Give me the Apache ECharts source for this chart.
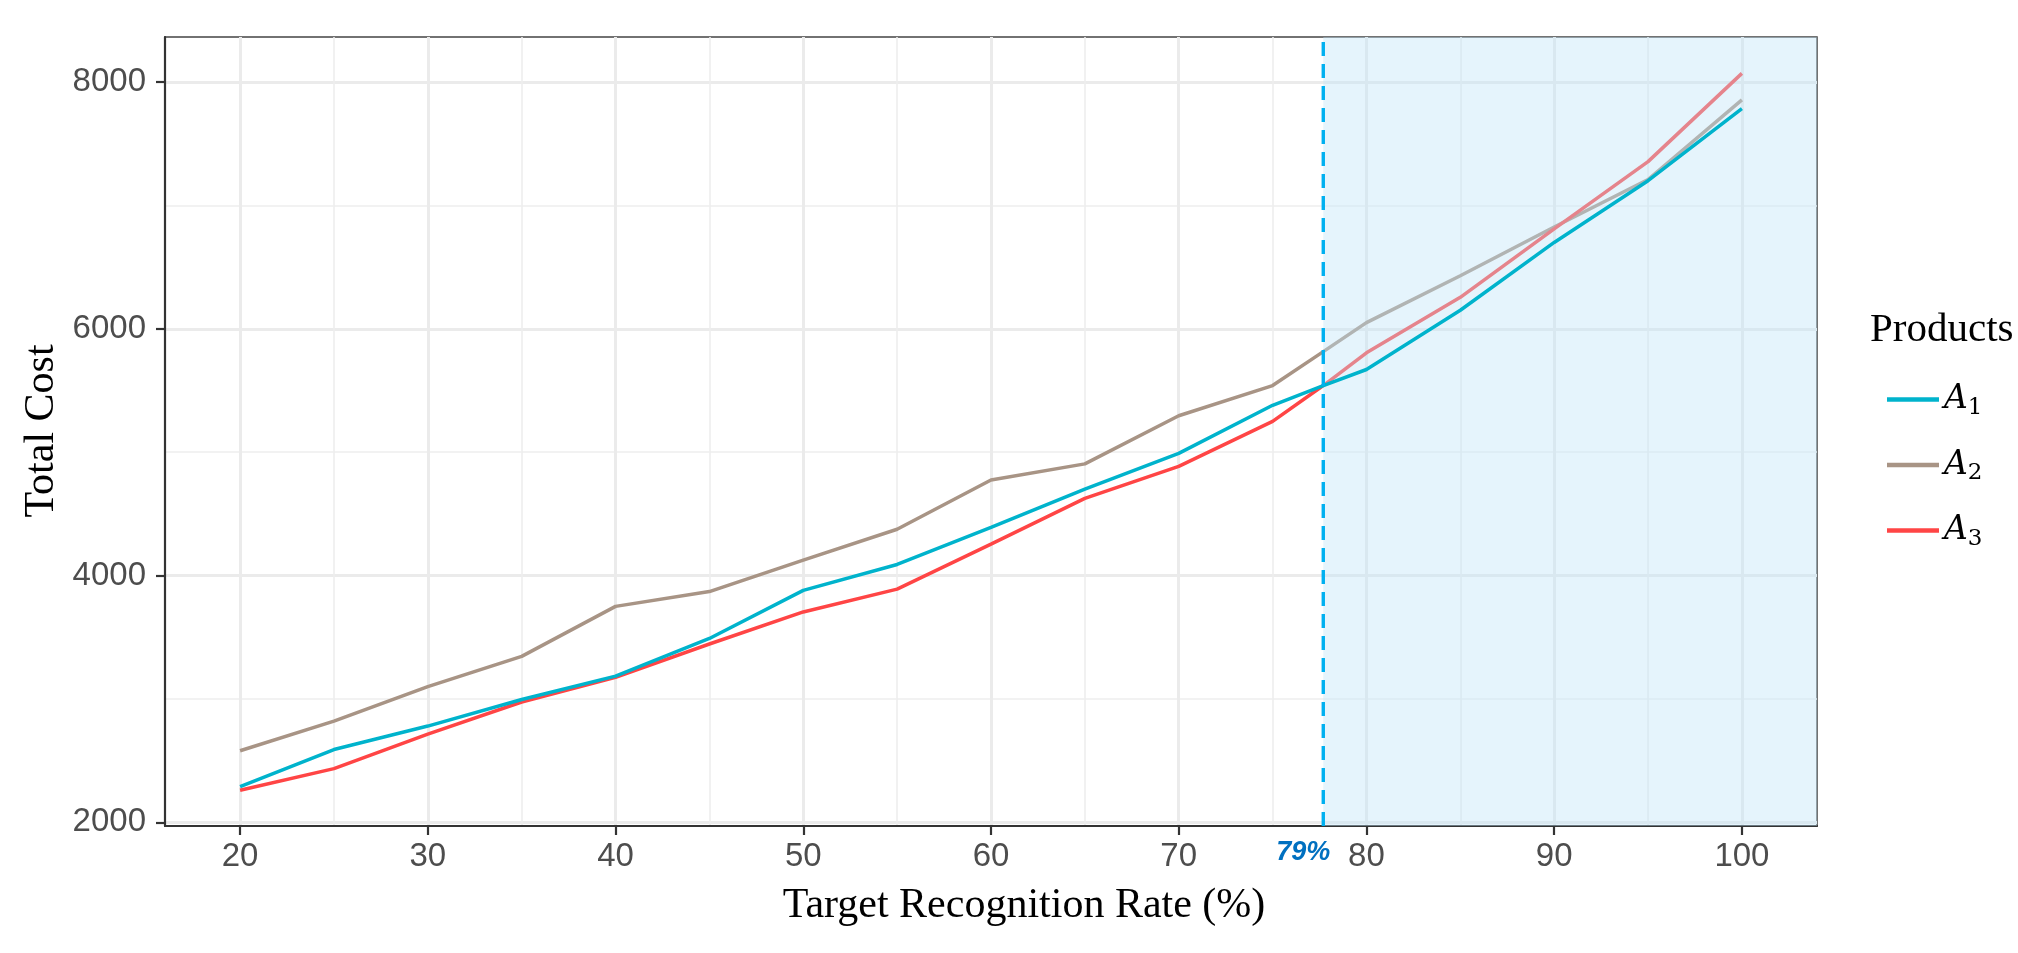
<!DOCTYPE html>
<html><head><meta charset="utf-8">
<script src="https://cdn.jsdelivr.net/npm/echarts@6/dist/echarts.min.js"></script>
<style>html,body{margin:0;padding:0;background:#fff}#c{width:2018px;height:953px}</style>
</head><body><div id="c"></div>
<script>
// ---- data ----
const recognitionRate = [20,25,30,35,40,45,50,55,60,65,70,75,77.7,80,85,90,95,100];
const costA1 = [2290,2590,2780,2995,3185,3490,3880,4090,4390,4700,4990,5380,5540,5670,6150,6700,7200,7785];
const costA2 = [2580,2820,3100,3345,3750,3870,4125,4375,4775,4905,5295,5540,5815,6050,6430,6825,7210,7855];
const costA3 = [2260,2435,2715,2975,3175,3445,3705,3890,4255,4625,4885,5250,5540,5805,6255,6810,7355,8070];
const productNames = ['A1','A2','A3'];
const xMajorTicks = [20,30,40,50,60,70,80,90,100];
const xMinorTicks = [25,35,45,55,65,75,85,95];
const yMajorTicks = [2000,4000,6000,8000];
const yMinorTicks = [3000,5000,7000];
const thresholdX = 77.7;
const thresholdLabel = '79%';
const xRange = [16,104];
const yRange = [1970,8365];
const xTitle = 'Target Recognition Rate (%)';
const yTitle = 'Total Cost';
const legendTitle = 'Products';

const colors = {A1:'#00B3CC', A2:'#A89485', A3:'#FF4545'};
const zip = (xs, ys) => xs.map((x,i)=>[x, ys[i]]);

const chart = echarts.init(document.getElementById('c'), null, {renderer:'canvas'});

const grid = {left:165, right:201, top:37, bottom:127, show:true, borderColor:'#444', borderWidth:1.5, backgroundColor:'transparent'};
const tickFont = {fontSize:33, color:'#4D4D4D', fontFamily:'Liberation Sans, Arial, sans-serif', formatter: v => String(v)};

function lineSeries(name, data, z){
  return {name, type:'line', data:zip(recognitionRate, data), xAxisIndex:0, yAxisIndex:0,
    symbol:'none', smooth:false, z, color:colors[name],
    lineStyle:{color:colors[name], width:3.5}, itemStyle:{color:colors[name]}, silent:true};
}

const option = {
  animation:false,
  grid,
  xAxis:[
    {type:'value', min:xRange[0], max:xRange[1], position:'bottom',
     axisLine:{show:true, onZero:false, lineStyle:{color:'#333', width:2.2}},
     axisTick:{show:true, customValues:xMajorTicks, length:9, lineStyle:{color:'#333', width:2.2}},
     axisLabel:Object.assign({customValues:xMajorTicks, margin:14}, tickFont),
     splitLine:{show:true, lineStyle:{color:'#EBEBEB', width:3}}},
    {type:'value', min:xRange[0], max:xRange[1], position:'top',
     axisLine:{show:false}, axisTick:{show:false, customValues:xMinorTicks},
     axisLabel:{show:false, customValues:xMinorTicks},
     splitLine:{show:true, lineStyle:{color:'#EEEEEE', width:1.6}}}
  ],
  yAxis:[
    {type:'value', min:yRange[0], max:yRange[1], position:'left',
     axisLine:{show:true, onZero:false, lineStyle:{color:'#333', width:2.2}},
     axisTick:{show:true, customValues:yMajorTicks, length:9, lineStyle:{color:'#333', width:2.2}},
     axisLabel:Object.assign({customValues:yMajorTicks, margin:19}, tickFont),
     splitLine:{show:true, lineStyle:{color:'#EBEBEB', width:3}}},
    {type:'value', min:yRange[0], max:yRange[1], position:'right',
     axisLine:{show:false}, axisTick:{show:false, customValues:yMinorTicks},
     axisLabel:{show:false, customValues:yMinorTicks},
     splitLine:{show:true, lineStyle:{color:'#EEEEEE', width:1.6}}}
  ],
  legend:{
    data:productNames, orient:'vertical', left:1882, top:378,
    icon:'rect', itemWidth:52, itemHeight:4.5, itemGap:29, selectedMode:false,
    formatter: n => '{a|' + n.charAt(0) + '}{s|' + n.slice(1) + '}',
    textStyle:{rich:{
      a:{fontFamily:'DejaVu Serif', fontStyle:'italic', fontSize:33, lineHeight:40, color:'#000', verticalAlign:'middle'},
      s:{fontFamily:'DejaVu Serif', fontSize:23, lineHeight:24, color:'#000', verticalAlign:'bottom'}
    }}
  },
  series:[
    lineSeries('A2', costA2, 2),
    lineSeries('A3', costA3, 2),
    {type:'custom', name:'shade', z:3, silent:true, xAxisIndex:0, yAxisIndex:0,
     data:[[thresholdX, xRange[1]]], encode:{x:[0,1]},
     renderItem:(params, api) => {
       const p0 = api.coord([api.value(0), yRange[1]]);
       const p1 = api.coord([api.value(1), yRange[0]]);
       return {type:'rect', shape:{x:p0[0], y:p0[1], width:p1[0]-p0[0], height:p1[1]-p0[1]},
               style:{fill:'rgba(190,228,248,0.4)'}};
     }},
    lineSeries('A1', costA1, 4),
    {type:'custom', name:'threshold', z:5, silent:true, xAxisIndex:0, yAxisIndex:0,
     data:[[thresholdX]], encode:{x:0},
     renderItem:(params, api) => {
       const p0 = api.coord([api.value(0), yRange[0]]);
       const p1 = api.coord([api.value(0), yRange[1]]);
       return {type:'line', shape:{x1:p0[0], y1:p0[1], x2:p1[0], y2:p1[1]},
               style:{stroke:'#00B0F0', lineWidth:3.4, lineDash:[14,8]}};
     }}
  ]
};
chart.setOption(option);

const tx = chart.convertToPixel({xAxisIndex:0}, thresholdX);
const by = chart.convertToPixel({yAxisIndex:0}, yRange[0]);
chart.setOption({graphic:[
  {type:'text', x:1024, y:906, style:{text:xTitle, font:'42px "Liberation Serif", "Times New Roman", serif', fill:'#000', align:'center', verticalAlign:'middle'}},
  {type:'text', x:42, y:431, rotation:Math.PI/2, style:{text:yTitle, font:'42px "Liberation Serif", "Times New Roman", serif', fill:'#000', align:'center', verticalAlign:'middle'}},
  {type:'text', x:1870, y:330, style:{text:legendTitle, font:'41px "Liberation Serif", "Times New Roman", serif', fill:'#000', align:'left', verticalAlign:'middle'}},
  {type:'text', x:tx+7, y:by+27, style:{text:thresholdLabel, font:'italic bold 27px "Liberation Sans", Arial, sans-serif', fill:'#0070C0', align:'right', verticalAlign:'middle'}}
]});
</script></body></html>
